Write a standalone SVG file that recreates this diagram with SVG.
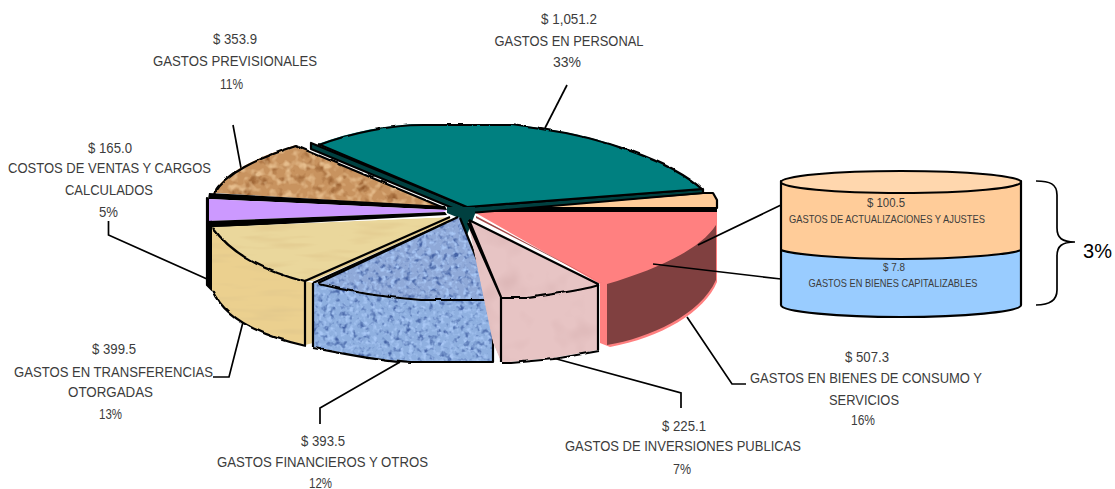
<svg xmlns="http://www.w3.org/2000/svg" width="1115" height="489" viewBox="0 0 1115 489">
<style>
text{font-family:"Liberation Sans",Arial,sans-serif;font-size:14px;fill:#3c3c3c;text-anchor:middle}
.s{font-size:10.5px}
.k{stroke:#000;stroke-width:2.2;stroke-linejoin:round}
.n{fill:none}
.l{fill:none;stroke:#000;stroke-width:1.7}
</style>
<defs>
<filter id="wob" x="-5%" y="-5%" width="110%" height="110%"><feTurbulence type="turbulence" baseFrequency="0.09" numOctaves="1" seed="2"/><feDisplacementMap in="SourceGraphic" scale="2.5" xChannelSelector="R" yChannelSelector="G"/></filter>
<filter id="fBrown" x="0" y="0" width="1" height="1" color-interpolation-filters="sRGB"><feTurbulence type="fractalNoise" baseFrequency="0.07" numOctaves="3" seed="4"/><feColorMatrix values="0 0 0 0 0.55  0 0 0 0 0.32  0 0 0 0 0.14  3 0 0 0 -1.6"/><feBlend in2="SourceGraphic" mode="normal" result="a"/><feTurbulence type="fractalNoise" baseFrequency="0.13" numOctaves="2" seed="11"/><feColorMatrix values="0 0 0 0 0.9  0 0 0 0 0.74  0 0 0 0 0.55  3 0 0 0 -1.4"/><feBlend in2="a" mode="normal"/><feComposite in2="SourceGraphic" operator="in"/></filter>
<filter id="fBlue" x="0" y="0" width="1" height="1" color-interpolation-filters="sRGB"><feTurbulence type="fractalNoise" baseFrequency="0.17" numOctaves="2" seed="7"/><feColorMatrix values="0 0 0 0 0.27  0 0 0 0 0.39  0 0 0 0 0.65  3.500 0 0 0 -1.8"/><feBlend in2="SourceGraphic" mode="normal" result="a"/><feTurbulence type="fractalNoise" baseFrequency="0.22" numOctaves="2" seed="13"/><feColorMatrix values="0 0 0 0 0.66  0 0 0 0 0.78  0 0 0 0 0.96  3.500 0 0 0 -1.7"/><feBlend in2="a" mode="normal"/><feComposite in2="SourceGraphic" operator="in"/></filter>
<filter id="fTan" x="0" y="0" width="1" height="1" color-interpolation-filters="sRGB"><feTurbulence type="fractalNoise" baseFrequency="0.02 0.14" numOctaves="2" seed="3"/><feColorMatrix values="0 0 0 0 0.88  0 0 0 0 0.78  0 0 0 0 0.55  2 0 0 0 -1"/><feBlend in2="SourceGraphic" mode="normal"/><feComposite in2="SourceGraphic" operator="in"/></filter>
<filter id="fPink" x="0" y="0" width="1" height="1" color-interpolation-filters="sRGB"><feTurbulence type="fractalNoise" baseFrequency="0.04" numOctaves="2" seed="9"/><feColorMatrix values="0 0 0 0 0.85  0 0 0 0 0.7  0 0 0 0 0.7  1.800 0 0 0 -0.9"/><feBlend in2="SourceGraphic" mode="normal"/><feComposite in2="SourceGraphic" operator="in"/></filter>
</defs>
<g id="connectors">
<path class="l" d="M567 85L545 128"/>
<path class="l" d="M233 125L241 168"/>
<path class="l" d="M108.500 221V235L207 279"/>
<path class="l" d="M243 322L229 377H213"/>
<path class="l" d="M320 424V408L400 362"/>
<path class="l" d="M553 358L681 393V408"/>
<path class="l" d="M687 317L732 384H746"/>
</g>
<g id="slice-consumo">
<path d="M474 212H717V282C705 312 660 338 610 347L600 343V284Z" fill="#ff8080"/>
<path d="M716 225C700 250 655 270 607 284V345C650 338 700 315 716 280Z" fill="#804040"/>
<path d="M476 216L600 282L604 284L476 218Z" fill="#a04848"/>
<path d="M473 210.500H717" stroke="#000" stroke-width="3" fill="none"/>
</g>
<g id="slice-actualizaciones">
<path d="M507 208L703 193H713L717 200V208Z" fill="#ffcc99" class="k"/>
</g>
<g id="slice-previsionales">
<path d="M295 145C255 158 225 172 213 193L443 207Z" fill="#c8935f" filter="url(#fBrown)"/>
<path class="k n" filter="url(#wob)" d="M443 207L295 145C255 158 225 172 213 193"/>
</g>
<g id="slice-personal">
<path d="M311 143V149L467 214L470 213L703 193V189L467 207Z" fill="#004040" class="k"/>
<path d="M318 144C350 132 390 124 423 124H510L540 128C600 136 670 160 702 189L467 207Z" fill="#008080"/>
<path class="k n" filter="url(#wob)" d="M702 189C670 160 600 136 540 128L510 124H423C390 124 350 132 318 144"/>
<path class="k n" d="M318 144L467 207L702 189"/>
<path d="M447 207H475V214L467 235L459 218L447 213Z" fill="#004040"/>
</g>
<g id="slice-costos">
<path d="M207 198V285L212 290V227Z" fill="#000" class="k"/>
<path d="M209 193L445 206L447 210L208 199Z" fill="#000"/>
<path d="M208 199L207 221L443 212L447 210Z" fill="#cc99ff"/>
<path d="M207 221L445 212L447 215L212 228Z" fill="#000"/>
<path d="M208 199V221" stroke="#000" stroke-width="2" fill="none"/>
</g>
<g id="slice-transferencias">
<path d="M212 227C232 255 265 270 305 281V345C265 336 225 320 212 290Z" fill="#ebd08f" filter="url(#fTan)"/>
<path d="M212 227L450 217L305 281C265 270 232 255 212 227Z" fill="#ead79c" filter="url(#fTan)"/>
<path d="M305 281L313 281L450 220V217Z" fill="#e7cf91"/>
<path d="M305 281V345L313 343V283Z" fill="#e7cf91"/>
<path class="k n" filter="url(#wob)" d="M212 227C232 255 265 270 305 281M212 290C225 320 265 336 305 345"/>
<path class="k n" d="M305 281L450 217M305 345V281M313 283L450 221"/>
</g>
<g id="slice-financieros">
<path d="M313 283H318C345 290 380 296 420 299H493V362H410C375 360 340 352 313 347Z" fill="#8fb0e0" filter="url(#fBlue)"/>
<path d="M458 217L318 283C345 290 380 296 420 299H493L460 218Z" fill="#8fa9d8" filter="url(#fBlue)"/>
<path class="k n" d="M458 217L318 283M493 299L460 218M313 283V347M410 362H493V299"/>
<path class="k n" filter="url(#wob)" d="M318 283C345 290 380 296 420 299H493M313 347C340 352 375 360 410 362"/>
</g>
<g id="slice-inversiones">
<path d="M469 220L598 284V350L553 358L510 362H501L493 343L468 223Z" fill="#e7c4c4" filter="url(#fPink)"/>
<path class="k n" d="M469 220L598 284V350M468 223L501 297V362M469 220L501 297"/>
<path class="k n" filter="url(#wob)" d="M598 284C580 290 550 293 527 297H501M501 362H510L553 358L598 350"/>
</g>
<g id="cylinder">
<path class="k" fill="#99ccff" d="M781 250V305C781 312 840 317 901 317S1021 312 1021 305V250Z"/>
<path class="k" fill="#ffcc99" d="M781 181V250C790 254 840 259 901 259S1012 254 1021 250V181Z"/>
<ellipse class="k" fill="#ffd7ae" cx="901" cy="182" rx="120" ry="11"/>
<path class="l" d="M698 245L781 205M653 264L781 279"/>
<path class="l" d="M1036 181C1050 181 1057 184 1057 195V228C1057 238 1062 242 1075 242C1062 242 1057 246 1057 256V290C1057 300 1050 305 1036 305"/>
</g>
<g id="labels">
<text x="569" y="24" textLength="56" lengthAdjust="spacingAndGlyphs">$ 1,051.2</text>
<text x="569" y="46" textLength="149" lengthAdjust="spacingAndGlyphs">GASTOS EN PERSONAL</text>
<text x="567" y="67" textLength="28" lengthAdjust="spacingAndGlyphs">33%</text>
<text x="235" y="44" textLength="44" lengthAdjust="spacingAndGlyphs">$ 353.9</text>
<text x="235" y="66" textLength="164" lengthAdjust="spacingAndGlyphs">GASTOS PREVISIONALES</text>
<text x="231.500" y="89" textLength="23" lengthAdjust="spacingAndGlyphs">11%</text>
<text x="110" y="153" textLength="44" lengthAdjust="spacingAndGlyphs">$ 165.0</text>
<text x="109.500" y="173" textLength="203" lengthAdjust="spacingAndGlyphs">COSTOS DE VENTAS Y CARGOS</text>
<text x="109" y="195" textLength="88" lengthAdjust="spacingAndGlyphs">CALCULADOS</text>
<text x="108.500" y="217" textLength="19" lengthAdjust="spacingAndGlyphs">5%</text>
<text x="114" y="354" textLength="44" lengthAdjust="spacingAndGlyphs">$ 399.5</text>
<text x="113.500" y="377" textLength="199" lengthAdjust="spacingAndGlyphs">GASTOS EN TRANSFERENCIAS</text>
<text x="110.500" y="397" textLength="85" lengthAdjust="spacingAndGlyphs">OTORGADAS</text>
<text x="110.500" y="419" textLength="23" lengthAdjust="spacingAndGlyphs">13%</text>
<text x="323" y="446" textLength="44" lengthAdjust="spacingAndGlyphs">$ 393.5</text>
<text x="322.500" y="467" textLength="211" lengthAdjust="spacingAndGlyphs">GASTOS FINANCIEROS Y OTROS</text>
<text x="320.500" y="488" textLength="23" lengthAdjust="spacingAndGlyphs">12%</text>
<text x="684" y="431" textLength="44" lengthAdjust="spacingAndGlyphs">$ 225.1</text>
<text x="683" y="451" textLength="236" lengthAdjust="spacingAndGlyphs">GASTOS DE INVERSIONES PUBLICAS</text>
<text x="682" y="474" textLength="18" lengthAdjust="spacingAndGlyphs">7%</text>
<text x="867" y="362" textLength="44" lengthAdjust="spacingAndGlyphs">$ 507.3</text>
<text x="866" y="383" textLength="232" lengthAdjust="spacingAndGlyphs">GASTOS EN BIENES DE CONSUMO Y</text>
<text x="864" y="405" textLength="70" lengthAdjust="spacingAndGlyphs">SERVICIOS</text>
<text x="863" y="425" textLength="24" lengthAdjust="spacingAndGlyphs">16%</text>
<text x="886" y="207" style="font-size:12px" textLength="38" lengthAdjust="spacingAndGlyphs">$ 100.5</text>
<text x="887" y="223" class="s" textLength="196" lengthAdjust="spacingAndGlyphs">GASTOS DE ACTUALIZACIONES  Y AJUSTES</text>
<text x="894" y="271" class="s" textLength="22" lengthAdjust="spacingAndGlyphs">$ 7.8</text>
<text x="893" y="287" class="s" textLength="169" lengthAdjust="spacingAndGlyphs">GASTOS EN BIENES CAPITALIZABLES</text>
<text x="1097.500" y="258" style="font-size:20px;fill:#000">3%</text>
</g>
</svg>
